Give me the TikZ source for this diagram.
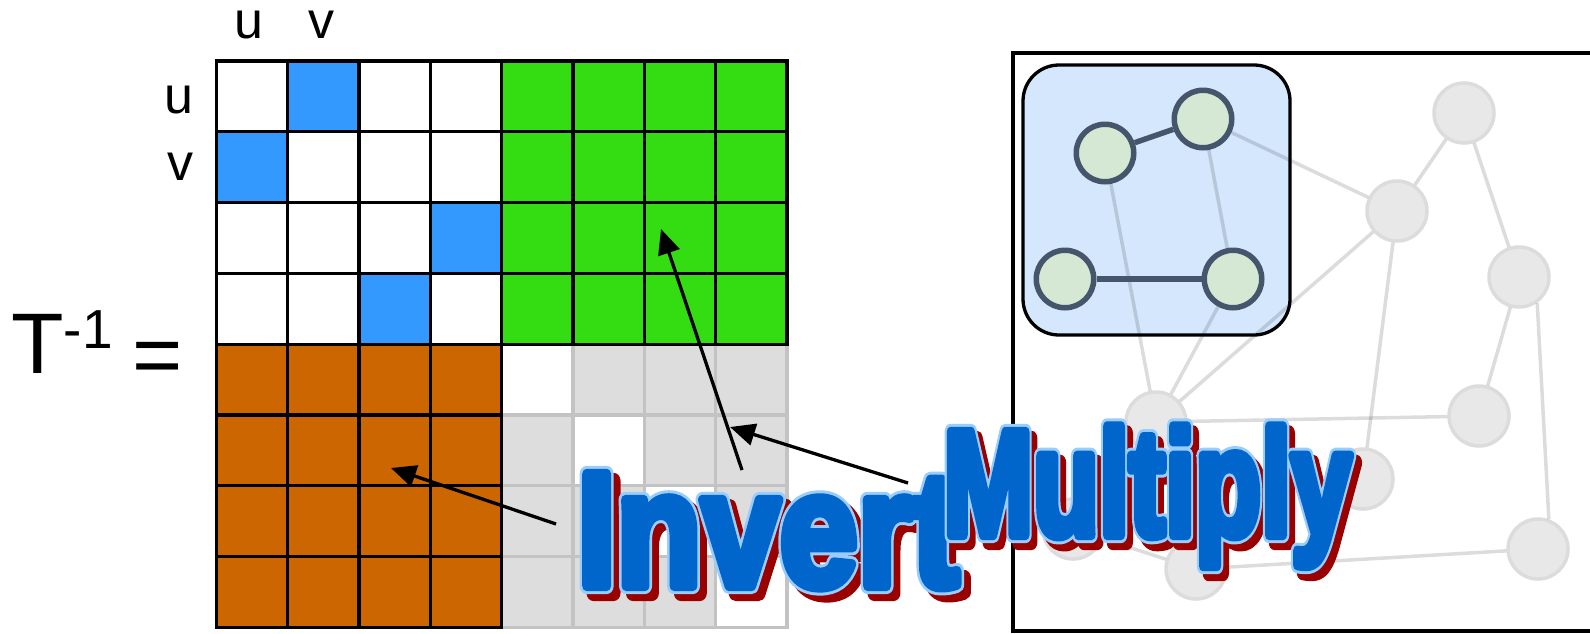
\documentclass[tikz,border=0pt]{standalone}
\usepackage{fontspec}
\setmainfont{Liberation Sans}
\usepackage{tikz}
\usetikzlibrary{arrows.meta}
\usepackage{xcolor}
\definecolor{cellblue}{HTML}{3399FF}
\definecolor{cellgreen}{HTML}{33DD11}
\definecolor{cellorange}{HTML}{CC6600}
\definecolor{cellgray}{HTML}{DDDDDD}
\definecolor{gridgray}{HTML}{C3C3C3}
\definecolor{groupfill}{HTML}{D4E7FC}
\definecolor{subfill}{HTML}{D5E8D4}
\definecolor{subborder}{HTML}{45566C}
\definecolor{restfill}{HTML}{E8E8E8}
\definecolor{restborder}{HTML}{DCDCDC}

\makeatletter
\newcommand{\inkon}[2]{\pgfsys@invoke{#1 rg #1 RG #2 w 1 j 2 Tr}}
\newcommand{\inkoff}{\pgfsys@invoke{0 Tr}}
\makeatother
\newcommand{\wordart}[1]{%
  \makebox[0pt][l]{\hspace{8pt}\raisebox{-7pt}{\inkon{0.6 0 0}{16}#1\inkoff}}%
  \makebox[0pt][l]{\inkon{0.6 0.8 1}{16}#1\inkoff}%
  \inkon{0 0.4 0.8}{10}#1\inkoff}

\begin{document}
\begin{tikzpicture}[x=1pt, y=-1pt,
    cell/.style={draw=black, line width=3.3pt, minimum width=71.3pt,
      minimum height=70.8pt, inner sep=0pt, outer sep=0pt},
    restcell/.style={cell, draw=gridgray},
    axislabel/.style={font=\fontsize{52}{56}\selectfont, inner sep=0pt, anchor=base},
    panel/.style={draw=black, line width=3.3pt},
    subgraph/.style={draw=black, line width=3.3pt, fill=groupfill, rounded corners=36pt},
    subnode/.style={circle, draw=subborder, fill=subfill, line width=5.5pt,
      minimum size=57.5pt, inner sep=0pt},
    restnode/.style={circle, draw=restborder, fill=restfill, line width=3.5pt,
      minimum size=60pt, inner sep=0pt},
    sublink/.style={draw=subborder, line width=5.5pt},
    restlink/.style={draw=restborder, line width=3.5pt},
    pointer/.style={-{Triangle[length=25pt,width=22pt]}, line width=3.3pt},
    bigword/.style={anchor=base west, inner sep=0pt, transform shape}
  ]
    \useasboundingbox (0,0) rectangle (1590,633);

    \draw[panel] (1013,53) rectangle (1620,631);
    \draw[subgraph] (1023,65) rectangle (1290,335);

    \node[subnode] (s1) at (1105,153) {};
    \node[subnode] (s2) at (1203,119) {};
    \node[subnode] (s3) at (1065,279) {};
    \node[subnode] (s4) at (1233,279) {};
    \node[restnode] (g1) at (1464,113) {};
    \node[restnode] (g2) at (1397,211) {};
    \node[restnode] (g3) at (1519,277) {};
    \node[restnode] (g4) at (1156,422) {};
    \node[restnode] (g5) at (1479,416) {};
    \node[restnode] (g6) at (1363,479) {};
    \node[restnode] (g7) at (1538,549) {};
    \node[restnode] (g8) at (1196,569) {};
    \node[restnode] (g9) at (1073,529) {};

    \begin{scope}[blend mode=multiply]
      \draw[restlink] (s2) -- (g2);
      \draw[restlink] (s2) -- (s4);
      \draw[restlink] (s1) -- (g4);
      \draw[restlink] (s4) -- (g4);
      \draw[restlink] (g1) -- (g2);
      \draw[restlink] (g1) -- (g3);
      \draw[restlink] (g2) -- (g4);
      \draw[restlink] (g2) -- (g6);
      \draw[restlink] (g4) -- (g5);
      \draw[restlink] (g3) -- (g5);
      \draw[restlink] (g3.-55) -- (g7.70);
      \draw[restlink] (g9) -- (g8);
      \draw[restlink] (g8) -- (g7);
    \end{scope}
    \draw[sublink] (s1) -- (s2);
    \draw[sublink] (s3) -- (s4);

    \foreach \r in {4,...,7}
      \foreach \c in {4,...,7}{
        \ifnum\r=\c\relax\def\cellfill{white}\else\def\cellfill{cellgray}\fi
        \node[restcell, fill=\cellfill] (m\r\c) at ({216.5+71.3*(\c+0.5)},{61+70.8*(\r+0.5)}) {};
      }
    \foreach \r in {0,...,3}
      \foreach \c in {0,...,3}{
        \pgfmathtruncatemacro{\pair}{\r+1-2*mod(\r,2)}
        \ifnum\c=\pair\relax\def\cellfill{cellblue}\else\def\cellfill{white}\fi
        \node[cell, fill=\cellfill] (m\r\c) at ({216.5+71.3*(\c+0.5)},{61+70.8*(\r+0.5)}) {};
      }
    \foreach \r in {0,...,3}
      \foreach \c in {4,...,7}
        \node[cell, fill=cellgreen] (m\r\c) at ({216.5+71.3*(\c+0.5)},{61+70.8*(\r+0.5)}) {};
    \foreach \r in {4,...,7}
      \foreach \c in {0,...,3}
        \node[cell, fill=cellorange] (m\r\c) at ({216.5+71.3*(\c+0.5)},{61+70.8*(\r+0.5)}) {};

    \node[axislabel] (colu) at (249,38) {u};
    \node[axislabel] (colv) at (321,38) {v};
    \node[axislabel] (rowu) at (179,113) {u};
    \node[axislabel] (rowv) at (180,180) {v};
    \node[anchor=base west, inner sep=0pt, font=\fontsize{86}{90}\selectfont] (tinv) at (11,373)
      {T\raisebox{25pt}{\fontsize{55}{60}\selectfont -1}\hspace{20pt}\raisebox{-11pt}{=}};

    \coordinate (tail-up) at (742,470);
    \coordinate (tip-up) at (661,229);
    \coordinate (tail-left) at (556,524);
    \coordinate (tip-left) at (391,468);
    \coordinate (tail-mul) at (908,483);
    \coordinate (tip-mul) at (730,427);
    \draw[pointer] (tail-up) -- (tip-up);
    \draw[pointer] (tail-left) -- (tip-left);
    \draw[pointer] (tail-mul) -- (tip-mul);

    \node[bigword, xscale=0.86, font=\fontsize{163}{168}\selectfont\bfseries] (invert) at (577,586) {\wordart{Invert}};
    \node[bigword, xscale=0.72, font=\fontsize{150}{154}\selectfont\bfseries] (multiply) at (943,535) {\wordart{Multiply}};
\end{tikzpicture}
\end{document}
